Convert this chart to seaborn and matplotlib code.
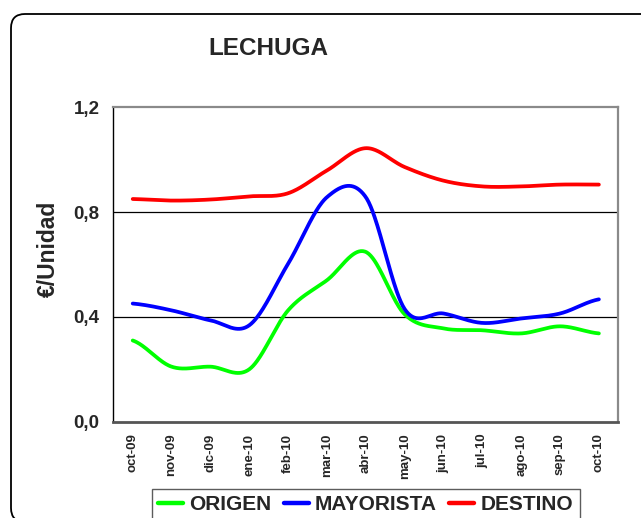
import numpy as np
import pandas as pd
import matplotlib
matplotlib.use("Agg")
import matplotlib.pyplot as plt
from matplotlib.patches import FancyBboxPatch
from matplotlib.lines import Line2D
import seaborn as sns

# Monthly prices (€/unidad) for lettuce at each stage of the chain
meses = ["oct-09", "nov-09", "dic-09", "ene-10", "feb-10", "mar-10", "abr-10",
         "may-10", "jun-10", "jul-10", "ago-10", "sep-10", "oct-10"]
origen = [0.31, 0.21, 0.21, 0.20, 0.425, 0.54, 0.648, 0.41, 0.356, 0.349, 0.337, 0.364, 0.337]
mayorista = [0.451, 0.425, 0.387, 0.368, 0.603, 0.857, 0.857, 0.43, 0.413, 0.377, 0.394, 0.413, 0.467]
destino = [0.85, 0.844, 0.848, 0.86, 0.872, 0.959, 1.044, 0.972, 0.92, 0.898, 0.898, 0.905, 0.905]

series = ["ORIGEN", "MAYORISTA", "DESTINO"]
colores = {"ORIGEN": "#00FF00", "MAYORISTA": "#0000FF", "DESTINO": "#FF0000"}
yticks = [0.0, 0.4, 0.8, 1.2]
ytick_labels = ["0,0", "0,4", "0,8", "1,2"]


def suavizar(y, n=40):
    """Smoothed curve through the monthly points (Catmull-Rom segments)."""
    y = np.asarray(y, float)
    p = np.concatenate([[y[0]], y, [y[-1]]])
    xs, ys = [], []
    for i in range(len(y) - 1):
        p0, p1, p2, p3 = p[i], p[i + 1], p[i + 2], p[i + 3]
        m1 = (p2 - p0) / 2
        m2 = (p3 - p1) / 2
        t = np.linspace(0, 1, n, endpoint=False)
        h00 = 2 * t**3 - 3 * t**2 + 1
        h10 = t**3 - 2 * t**2 + t
        h01 = -2 * t**3 + 3 * t**2
        h11 = t**3 - t**2
        xs.append(i + t)
        ys.append(h00 * p1 + h10 * m1 + h01 * p2 + h11 * m2)
    xs.append([len(y) - 1])
    ys.append([y[-1]])
    return np.concatenate(xs), np.concatenate(ys)


frames = []
for nombre, valores in zip(series, [origen, mayorista, destino]):
    xs, ys = suavizar(valores)
    frames.append(pd.DataFrame({"x": xs, "precio": ys, "serie": nombre}))
df = pd.concat(frames, ignore_index=True)

sns.set_style("white")
plt.rcParams["font.family"] = ["Liberation Sans", "DejaVu Sans"]
plt.rcParams["font.weight"] = "bold"

W, H = 641, 518
fig = plt.figure(figsize=(W / 100, H / 100), dpi=100)
fig.patch.set_facecolor("white")

# Rounded outer frame of the chart area
marco = FancyBboxPatch((0.11, -0.04), 7.0, 5.08,
                       boxstyle="round,pad=0,rounding_size=0.14",
                       transform=fig.dpi_scale_trans, facecolor="none",
                       edgecolor="black", linewidth=1.3)
fig.add_artist(marco)

x0, x1, ytop, ybot = 113.3, 618.3, 107.3, 421.7
ax = fig.add_axes([x0 / W, 1 - ybot / H, (x1 - x0) / W, (ybot - ytop) / H])

sns.lineplot(data=df, x="x", y="precio", hue="serie", palette=colores,
             hue_order=series, sort=False, linewidth=2.7, legend=False, ax=ax)

for v in yticks[1:-1]:
    ax.axhline(v, color="black", linewidth=0.9, zorder=0)

ax.set_xlim(-0.5, len(meses) - 0.5)
ax.set_ylim(yticks[0], yticks[-1])
ax.set_yticks(yticks)
ax.set_yticklabels(ytick_labels, fontsize=13.5, fontweight="bold")
ax.tick_params(axis="y", direction="out", length=7, width=0.9, color="black", pad=3)

ax.set_xticks(range(len(meses)))
ax.set_xticklabels(meses, rotation=90, fontsize=9.5, fontweight="bold")
ax.set_xticks(np.arange(-0.5, len(meses)), minor=True)
ax.tick_params(axis="x", which="major", length=0, pad=8.5)
ax.tick_params(axis="x", which="minor", direction="out", length=4.5, width=1.0, color="#404040")
ax.set_xlabel("")

ax.set_ylabel("€/Unidad", fontsize=16.5, fontweight="bold")
ax.yaxis.set_label_coords(-0.106, 0.549)

for lado in ["top", "right"]:
    ax.spines[lado].set_color("#8a8a8a")
    ax.spines[lado].set_linewidth(1.6)
ax.spines["left"].set_color("black")
ax.spines["left"].set_linewidth(1.0)
ax.spines["bottom"].set_color("#555555")
ax.spines["bottom"].set_linewidth(2.0)

fig.text(268 / W, 1 - 55 / H, "LECHUGA", ha="center", va="baseline",
         fontsize=17.5, fontweight="bold")

handles = [Line2D([0], [0], color=colores[s], linewidth=3.2) for s in series]
leg = fig.legend(handles, series, loc="upper center",
                 bbox_to_anchor=(365.5 / W, 1 - 489 / H), ncol=3,
                 prop={"size": 15, "weight": "bold"}, frameon=True,
                 fancybox=False, edgecolor="#333333", handlelength=1.2,
                 handletextpad=0.3, columnspacing=0.6, borderpad=0.3,
                 borderaxespad=0)
leg.get_frame().set_linewidth(1.0)

fig.savefig("out.png", dpi=100)
